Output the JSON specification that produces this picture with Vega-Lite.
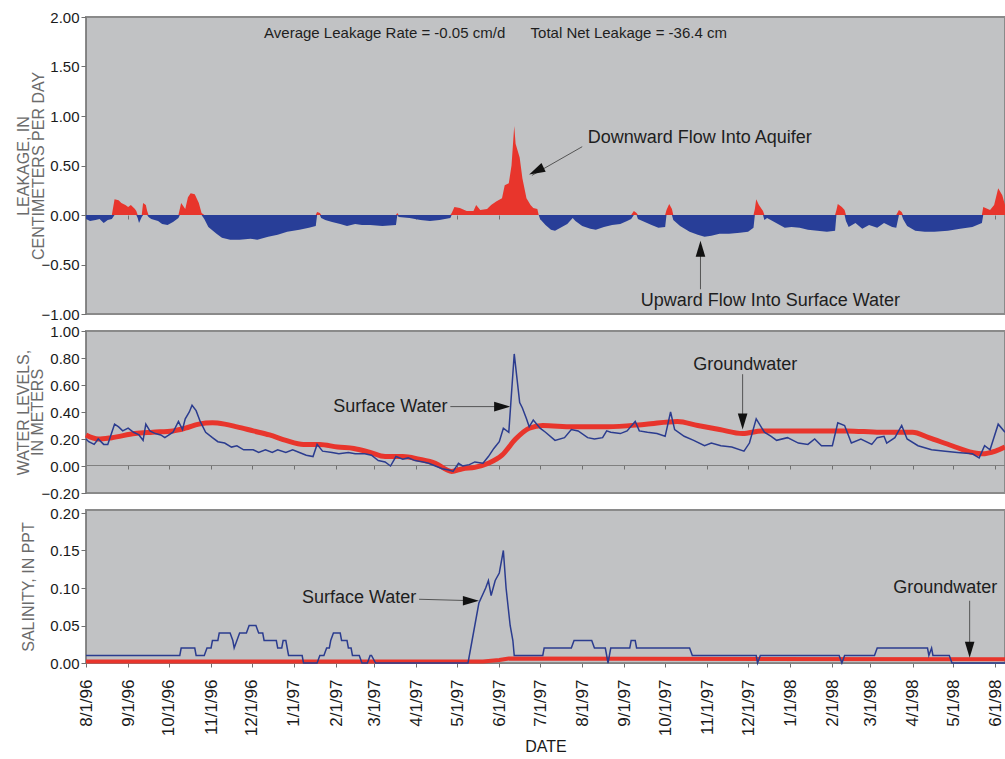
{
"$schema":"https://vega.github.io/schema/vega-lite/v6.json",
"padding":{"left":14,"top":9,"right":0,"bottom":0},
"background":"white",
"spacing":17,
"bounds":"flush",
"config":{
 "font":"Liberation Sans",
 "view":{"fill":"#c1c2c4","stroke":"#8a8a8a","strokeWidth":2},
 "axis":{"grid":false,"domainColor":"#808080","tickColor":"#707070","labelColor":"#1a1a1a","labelFont":"Liberation Sans","labelFontSize":15,"labelLimit":400,"titleFont":"Liberation Sans","titleFontWeight":"normal","titleColor":"#6b6b6b","titleFontSize":16},
 "text":{"font":"Liberation Sans","color":"#1e1e1e"}
},
"datasets":{
"leak":[
{"d":"1996-08-01","pos":0,"neg":-0.04},{"d":"1996-08-04","pos":0,"neg":-0.06},{"d":"1996-08-08","pos":0,"neg":-0.05},{"d":"1996-08-11","pos":0,"neg":-0.04},{"d":"1996-08-14","pos":0,"neg":-0.08},{"d":"1996-08-17","pos":0,"neg":-0.05},{"d":"1996-08-20","pos":0,"neg":-0.04},
{"d":"1996-08-22","pos":0.16,"neg":0},{"d":"1996-08-25","pos":0.15,"neg":0},{"d":"1996-08-27","pos":0.12,"neg":0},{"d":"1996-08-30","pos":0.10,"neg":0},{"d":"1996-09-01","pos":0.08,"neg":0},{"d":"1996-09-03","pos":0.10,"neg":0},{"d":"1996-09-06","pos":0.06,"neg":0},{"d":"1996-09-07","pos":0.04,"neg":0},
{"d":"1996-09-08","pos":0,"neg":-0.03},{"d":"1996-09-09","pos":0,"neg":-0.08},{"d":"1996-09-11","pos":0,"neg":-0.02},
{"d":"1996-09-12","pos":0.12,"neg":0},{"d":"1996-09-14","pos":0.10,"neg":0},{"d":"1996-09-15","pos":0.04,"neg":0},
{"d":"1996-09-16","pos":0,"neg":-0.02},{"d":"1996-09-18","pos":0,"neg":-0.04},{"d":"1996-09-23","pos":0,"neg":-0.06},{"d":"1996-09-26","pos":0,"neg":-0.09},{"d":"1996-09-30","pos":0,"neg":-0.10},{"d":"1996-10-04","pos":0,"neg":-0.07},{"d":"1996-10-08","pos":0,"neg":-0.03},
{"d":"1996-10-09","pos":0.06,"neg":0},{"d":"1996-10-10","pos":0.12,"neg":0},{"d":"1996-10-13","pos":0.06,"neg":0},{"d":"1996-10-15","pos":0.18,"neg":0},{"d":"1996-10-17","pos":0.22,"neg":0},{"d":"1996-10-20","pos":0.21,"neg":0},{"d":"1996-10-23","pos":0.12,"neg":0},{"d":"1996-10-25","pos":0.02,"neg":0},
{"d":"1996-10-27","pos":0,"neg":-0.04},{"d":"1996-10-30","pos":0,"neg":-0.12},{"d":"1996-11-05","pos":0,"neg":-0.19},{"d":"1996-11-09","pos":0,"neg":-0.23},{"d":"1996-11-15","pos":0,"neg":-0.25},{"d":"1996-11-22","pos":0,"neg":-0.25},{"d":"1996-11-30","pos":0,"neg":-0.24},{"d":"1996-12-05","pos":0,"neg":-0.25},{"d":"1996-12-13","pos":0,"neg":-0.22},{"d":"1996-12-20","pos":0,"neg":-0.20},{"d":"1996-12-27","pos":0,"neg":-0.17},{"d":"1997-01-05","pos":0,"neg":-0.15},{"d":"1997-01-12","pos":0,"neg":-0.13},{"d":"1997-01-17","pos":0,"neg":-0.11},
{"d":"1997-01-18","pos":0.03,"neg":0},{"d":"1997-01-20","pos":0.02,"neg":0},
{"d":"1997-01-21","pos":0,"neg":-0.03},{"d":"1997-01-24","pos":0,"neg":-0.05},{"d":"1997-01-29","pos":0,"neg":-0.07},{"d":"1997-02-04","pos":0,"neg":-0.09},{"d":"1997-02-09","pos":0,"neg":-0.11},{"d":"1997-02-15","pos":0,"neg":-0.09},{"d":"1997-02-20","pos":0,"neg":-0.10},{"d":"1997-02-26","pos":0,"neg":-0.10},{"d":"1997-03-07","pos":0,"neg":-0.11},{"d":"1997-03-17","pos":0,"neg":-0.10},
{"d":"1997-03-18","pos":0.02,"neg":0},
{"d":"1997-03-19","pos":0,"neg":-0.02},{"d":"1997-03-27","pos":0,"neg":-0.03},{"d":"1997-04-04","pos":0,"neg":-0.05},{"d":"1997-04-11","pos":0,"neg":-0.06},{"d":"1997-04-18","pos":0,"neg":-0.05},{"d":"1997-04-26","pos":0,"neg":-0.03},
{"d":"1997-04-27","pos":0.02,"neg":0},{"d":"1997-04-29","pos":0.08,"neg":0},{"d":"1997-05-03","pos":0.07,"neg":0},{"d":"1997-05-08","pos":0.04,"neg":0},{"d":"1997-05-13","pos":0.04,"neg":0},{"d":"1997-05-15","pos":0.10,"neg":0},{"d":"1997-05-18","pos":0.05,"neg":0},{"d":"1997-05-23","pos":0.06,"neg":0},{"d":"1997-05-26","pos":0.10,"neg":0},{"d":"1997-05-30","pos":0.14,"neg":0},{"d":"1997-06-03","pos":0.17,"neg":0},{"d":"1997-06-05","pos":0.30,"neg":0},{"d":"1997-06-08","pos":0.32,"neg":0},{"d":"1997-06-10","pos":0.50,"neg":0},{"d":"1997-06-12","pos":0.90,"neg":0},{"d":"1997-06-13","pos":0.72,"neg":0},{"d":"1997-06-16","pos":0.58,"neg":0},{"d":"1997-06-18","pos":0.37,"neg":0},{"d":"1997-06-21","pos":0.17,"neg":0},{"d":"1997-06-24","pos":0.10,"neg":0},{"d":"1997-06-26","pos":0.07,"neg":0},{"d":"1997-06-29","pos":0.06,"neg":0},{"d":"1997-06-30","pos":0,"neg":0},
{"d":"1997-07-01","pos":0,"neg":-0.04},{"d":"1997-07-05","pos":0,"neg":-0.10},{"d":"1997-07-09","pos":0,"neg":-0.15},{"d":"1997-07-12","pos":0,"neg":-0.16},{"d":"1997-07-17","pos":0,"neg":-0.12},{"d":"1997-07-21","pos":0,"neg":-0.09},{"d":"1997-07-25","pos":0,"neg":-0.03},{"d":"1997-07-27","pos":0,"neg":-0.06},{"d":"1997-08-01","pos":0,"neg":-0.11},{"d":"1997-08-07","pos":0,"neg":-0.14},{"d":"1997-08-11","pos":0,"neg":-0.15},{"d":"1997-08-17","pos":0,"neg":-0.12},{"d":"1997-08-23","pos":0,"neg":-0.10},{"d":"1997-08-29","pos":0,"neg":-0.09},{"d":"1997-09-03","pos":0,"neg":-0.06},{"d":"1997-09-06","pos":0,"neg":-0.04},
{"d":"1997-09-08","pos":0.04,"neg":0},{"d":"1997-09-10","pos":0.02,"neg":0},
{"d":"1997-09-11","pos":0,"neg":-0.04},{"d":"1997-09-16","pos":0,"neg":-0.07},{"d":"1997-09-21","pos":0,"neg":-0.10},{"d":"1997-09-26","pos":0,"neg":-0.13},{"d":"1997-10-01","pos":0,"neg":-0.12},
{"d":"1997-10-02","pos":0.05,"neg":0},{"d":"1997-10-04","pos":0.11,"neg":0},{"d":"1997-10-06","pos":0.06,"neg":0},
{"d":"1997-10-07","pos":0,"neg":-0.05},{"d":"1997-10-12","pos":0,"neg":-0.11},{"d":"1997-10-19","pos":0,"neg":-0.17},{"d":"1997-10-25","pos":0,"neg":-0.20},{"d":"1997-10-30","pos":0,"neg":-0.22},{"d":"1997-11-04","pos":0,"neg":-0.21},{"d":"1997-11-10","pos":0,"neg":-0.19},{"d":"1997-11-17","pos":0,"neg":-0.19},{"d":"1997-11-25","pos":0,"neg":-0.18},{"d":"1997-12-01","pos":0,"neg":-0.17},{"d":"1997-12-05","pos":0,"neg":-0.13},
{"d":"1997-12-06","pos":0.06,"neg":0},{"d":"1997-12-07","pos":0.16,"neg":0},{"d":"1997-12-09","pos":0.10,"neg":0},{"d":"1997-12-12","pos":0.04,"neg":0},
{"d":"1997-12-13","pos":0,"neg":-0.05},{"d":"1997-12-15","pos":0,"neg":-0.03},{"d":"1997-12-19","pos":0,"neg":-0.06},{"d":"1997-12-23","pos":0,"neg":-0.09},{"d":"1997-12-28","pos":0,"neg":-0.13},{"d":"1998-01-02","pos":0,"neg":-0.12},{"d":"1998-01-08","pos":0,"neg":-0.13},{"d":"1998-01-14","pos":0,"neg":-0.15},{"d":"1998-01-21","pos":0,"neg":-0.16},{"d":"1998-01-28","pos":0,"neg":-0.17},{"d":"1998-02-03","pos":0,"neg":-0.16},
{"d":"1998-02-04","pos":0.05,"neg":0},{"d":"1998-02-05","pos":0.11,"neg":0},{"d":"1998-02-08","pos":0.08,"neg":0},{"d":"1998-02-10","pos":0.05,"neg":0},
{"d":"1998-02-11","pos":0,"neg":-0.06},{"d":"1998-02-13","pos":0,"neg":-0.12},{"d":"1998-02-18","pos":0,"neg":-0.08},{"d":"1998-02-23","pos":0,"neg":-0.14},{"d":"1998-02-28","pos":0,"neg":-0.10},{"d":"1998-03-06","pos":0,"neg":-0.13},{"d":"1998-03-11","pos":0,"neg":-0.08},{"d":"1998-03-17","pos":0,"neg":-0.12},{"d":"1998-03-20","pos":0,"neg":-0.13},
{"d":"1998-03-22","pos":0.05,"neg":0},{"d":"1998-03-24","pos":0.03,"neg":0},
{"d":"1998-03-25","pos":0,"neg":-0.04},{"d":"1998-03-28","pos":0,"neg":-0.11},{"d":"1998-04-03","pos":0,"neg":-0.16},{"d":"1998-04-10","pos":0,"neg":-0.17},{"d":"1998-04-17","pos":0,"neg":-0.17},{"d":"1998-04-27","pos":0,"neg":-0.16},{"d":"1998-05-06","pos":0,"neg":-0.14},{"d":"1998-05-15","pos":0,"neg":-0.12},{"d":"1998-05-22","pos":0,"neg":-0.08},
{"d":"1998-05-23","pos":0.08,"neg":0},{"d":"1998-05-28","pos":0.05,"neg":0},{"d":"1998-05-31","pos":0.10,"neg":0},{"d":"1998-06-03","pos":0.27,"neg":0},{"d":"1998-06-06","pos":0.20,"neg":0},{"d":"1998-06-08","pos":0.10,"neg":0}
],
"swl":[
{"d":"1996-08-01","v":0.20},{"d":"1996-08-03","v":0.18},{"d":"1996-08-07","v":0.16},{"d":"1996-08-10","v":0.20},{"d":"1996-08-14","v":0.16},{"d":"1996-08-17","v":0.16},{"d":"1996-08-22","v":0.31},{"d":"1996-08-25","v":0.29},{"d":"1996-08-28","v":0.26},{"d":"1996-09-01","v":0.28},{"d":"1996-09-05","v":0.25},{"d":"1996-09-09","v":0.23},{"d":"1996-09-12","v":0.19},{"d":"1996-09-14","v":0.31},{"d":"1996-09-17","v":0.26},{"d":"1996-09-21","v":0.24},{"d":"1996-09-25","v":0.23},{"d":"1996-09-28","v":0.21},{"d":"1996-10-04","v":0.25},{"d":"1996-10-08","v":0.33},{"d":"1996-10-11","v":0.27},{"d":"1996-10-13","v":0.35},{"d":"1996-10-16","v":0.40},{"d":"1996-10-18","v":0.45},{"d":"1996-10-21","v":0.41},{"d":"1996-10-24","v":0.33},{"d":"1996-10-28","v":0.25},{"d":"1996-11-02","v":0.21},{"d":"1996-11-06","v":0.18},{"d":"1996-11-11","v":0.17},{"d":"1996-11-16","v":0.14},{"d":"1996-11-20","v":0.15},{"d":"1996-11-25","v":0.12},{"d":"1996-12-02","v":0.12},{"d":"1996-12-06","v":0.10},{"d":"1996-12-11","v":0.12},{"d":"1996-12-16","v":0.10},{"d":"1996-12-20","v":0.12},{"d":"1996-12-26","v":0.10},{"d":"1996-12-31","v":0.12},{"d":"1997-01-05","v":0.10},{"d":"1997-01-10","v":0.08},{"d":"1997-01-15","v":0.07},{"d":"1997-01-18","v":0.16},{"d":"1997-01-22","v":0.11},{"d":"1997-01-29","v":0.10},{"d":"1997-02-03","v":0.09},{"d":"1997-02-10","v":0.10},{"d":"1997-02-15","v":0.09},{"d":"1997-02-22","v":0.09},{"d":"1997-02-27","v":0.08},{"d":"1997-03-04","v":0.04},{"d":"1997-03-09","v":0.03},{"d":"1997-03-13","v":0.00},{"d":"1997-03-17","v":0.07},{"d":"1997-03-22","v":0.05},{"d":"1997-03-26","v":0.06},{"d":"1997-03-31","v":0.04},{"d":"1997-04-06","v":0.03},{"d":"1997-04-10","v":0.02},{"d":"1997-04-15","v":0.00},{"d":"1997-04-20","v":-0.02},{"d":"1997-04-25","v":-0.03},{"d":"1997-04-28","v":-0.04},{"d":"1997-05-02","v":0.02},{"d":"1997-05-05","v":0.00},{"d":"1997-05-10","v":0.01},{"d":"1997-05-14","v":0.03},{"d":"1997-05-20","v":0.02},{"d":"1997-05-24","v":0.07},{"d":"1997-05-28","v":0.13},{"d":"1997-06-01","v":0.18},{"d":"1997-06-04","v":0.28},{"d":"1997-06-08","v":0.25},{"d":"1997-06-12","v":0.83},{"d":"1997-06-16","v":0.47},{"d":"1997-06-18","v":0.43},{"d":"1997-06-21","v":0.35},{"d":"1997-06-23","v":0.29},{"d":"1997-06-26","v":0.34},{"d":"1997-07-01","v":0.28},
{"d":"1997-07-05","v":0.25},{"d":"1997-07-12","v":0.19},{"d":"1997-07-19","v":0.21},{"d":"1997-07-24","v":0.27},{"d":"1997-07-29","v":0.26},{"d":"1997-08-05","v":0.21},{"d":"1997-08-10","v":0.20},{"d":"1997-08-16","v":0.21},{"d":"1997-08-19","v":0.26},{"d":"1997-08-22","v":0.25},{"d":"1997-08-29","v":0.24},{"d":"1997-09-03","v":0.26},{"d":"1997-09-09","v":0.33},{"d":"1997-09-12","v":0.26},{"d":"1997-09-18","v":0.25},{"d":"1997-09-25","v":0.24},{"d":"1997-10-01","v":0.22},{"d":"1997-10-05","v":0.40},{"d":"1997-10-08","v":0.27},{"d":"1997-10-15","v":0.22},{"d":"1997-10-22","v":0.19},{"d":"1997-10-30","v":0.15},{"d":"1997-11-04","v":0.17},{"d":"1997-11-11","v":0.15},{"d":"1997-11-19","v":0.14},{"d":"1997-11-28","v":0.11},{"d":"1997-12-02","v":0.17},{"d":"1997-12-07","v":0.35},{"d":"1997-12-13","v":0.25},{"d":"1997-12-18","v":0.22},{"d":"1997-12-22","v":0.19},{"d":"1997-12-30","v":0.21},{"d":"1998-01-07","v":0.17},{"d":"1998-01-14","v":0.16},{"d":"1998-01-19","v":0.20},{"d":"1998-01-24","v":0.15},{"d":"1998-02-01","v":0.15},{"d":"1998-02-05","v":0.32},{"d":"1998-02-10","v":0.30},{"d":"1998-02-15","v":0.17},{"d":"1998-02-22","v":0.20},{"d":"1998-03-02","v":0.16},{"d":"1998-03-06","v":0.21},{"d":"1998-03-11","v":0.22},{"d":"1998-03-13","v":0.17},{"d":"1998-03-19","v":0.21},{"d":"1998-03-24","v":0.30},{"d":"1998-03-28","v":0.20},{"d":"1998-04-05","v":0.15},{"d":"1998-04-15","v":0.12},{"d":"1998-04-25","v":0.11},{"d":"1998-05-04","v":0.10},{"d":"1998-05-15","v":0.09},{"d":"1998-05-20","v":0.06},{"d":"1998-05-24","v":0.15},{"d":"1998-05-28","v":0.12},{"d":"1998-06-03","v":0.31},{"d":"1998-06-08","v":0.25}
],
"gwl":[
{"d":"1996-08-01","v":0.23},{"d":"1996-08-10","v":0.20},{"d":"1996-08-20","v":0.21},{"d":"1996-09-06","v":0.24},{"d":"1996-09-19","v":0.25},{"d":"1996-10-04","v":0.26},{"d":"1996-10-13","v":0.28},{"d":"1996-10-23","v":0.31},{"d":"1996-11-02","v":0.32},{"d":"1996-11-11","v":0.31},{"d":"1996-11-20","v":0.29},{"d":"1996-12-02","v":0.26},{"d":"1996-12-14","v":0.23},{"d":"1996-12-26","v":0.19},{"d":"1997-01-08","v":0.16},{"d":"1997-01-20","v":0.16},{"d":"1997-02-02","v":0.14},{"d":"1997-02-14","v":0.13},{"d":"1997-02-26","v":0.10},{"d":"1997-03-09","v":0.07},{"d":"1997-03-22","v":0.07},{"d":"1997-04-03","v":0.05},{"d":"1997-04-15","v":0.02},{"d":"1997-04-27","v":-0.04},{"d":"1997-05-05","v":-0.02},{"d":"1997-05-14","v":-0.01},{"d":"1997-05-24","v":0.02},{"d":"1997-06-03","v":0.08},{"d":"1997-06-13","v":0.20},{"d":"1997-06-23","v":0.28},{"d":"1997-07-03","v":0.30},{"d":"1997-07-25","v":0.29},{"d":"1997-08-20","v":0.29},{"d":"1997-09-17","v":0.31},{"d":"1997-10-10","v":0.33},{"d":"1997-10-25","v":0.30},{"d":"1997-11-10","v":0.27},{"d":"1997-11-27","v":0.24},{"d":"1997-12-11","v":0.26},{"d":"1998-01-18","v":0.26},{"d":"1998-02-12","v":0.26},{"d":"1998-03-08","v":0.25},{"d":"1998-04-01","v":0.25},{"d":"1998-04-13","v":0.21},{"d":"1998-04-30","v":0.15},{"d":"1998-05-15","v":0.10},{"d":"1998-05-22","v":0.09},{"d":"1998-06-01","v":0.11},{"d":"1998-06-08","v":0.14}
],
"sws":[
{"d":"1996-08-01","v":0.01},{"d":"1996-10-09","v":0.01},{"d":"1996-10-10","v":0.02},{"d":"1996-10-20","v":0.02},{"d":"1996-10-21","v":0.01},{"d":"1996-10-27","v":0.01},{"d":"1996-10-29","v":0.02},{"d":"1996-11-01","v":0.02},{"d":"1996-11-02","v":0.03},{"d":"1996-11-06","v":0.03},{"d":"1996-11-07","v":0.04},{"d":"1996-11-15","v":0.04},{"d":"1996-11-17","v":0.03},{"d":"1996-11-18","v":0.02},{"d":"1996-11-20","v":0.03},{"d":"1996-11-22","v":0.04},{"d":"1996-11-27","v":0.04},{"d":"1996-11-29","v":0.05},{"d":"1996-12-04","v":0.05},{"d":"1996-12-06","v":0.04},{"d":"1996-12-09","v":0.04},{"d":"1996-12-10","v":0.03},{"d":"1996-12-19","v":0.03},{"d":"1996-12-20","v":0.02},{"d":"1996-12-23","v":0.02},{"d":"1996-12-24","v":0.03},{"d":"1996-12-26","v":0.03},{"d":"1996-12-28","v":0.01},{"d":"1997-01-07","v":0.01},{"d":"1997-01-08","v":0.00},{"d":"1997-01-18","v":0.00},{"d":"1997-01-20","v":0.01},{"d":"1997-01-23","v":0.01},{"d":"1997-01-25","v":0.02},{"d":"1997-01-27","v":0.02},{"d":"1997-01-28","v":0.03},{"d":"1997-01-30","v":0.04},{"d":"1997-02-04","v":0.04},{"d":"1997-02-05","v":0.03},{"d":"1997-02-09","v":0.03},{"d":"1997-02-10","v":0.02},{"d":"1997-02-12","v":0.02},{"d":"1997-02-13","v":0.01},{"d":"1997-02-18","v":0.01},{"d":"1997-02-20","v":0.00},{"d":"1997-02-24","v":0.00},{"d":"1997-02-26","v":0.01},{"d":"1997-02-27","v":0.01},{"d":"1997-03-02","v":0.00},{"d":"1997-05-09","v":0.00},{"d":"1997-05-12","v":0.03},{"d":"1997-05-17","v":0.08},{"d":"1997-05-22","v":0.10},{"d":"1997-05-24","v":0.11},{"d":"1997-05-26","v":0.09},{"d":"1997-05-29","v":0.11},{"d":"1997-06-01","v":0.12},{"d":"1997-06-04","v":0.15},{"d":"1997-06-06","v":0.10},{"d":"1997-06-09","v":0.05},{"d":"1997-06-11","v":0.03},{"d":"1997-06-12","v":0.01},{"d":"1997-07-03","v":0.01},{"d":"1997-07-04","v":0.02},{"d":"1997-07-24","v":0.02},{"d":"1997-07-26","v":0.03},{"d":"1997-08-08","v":0.03},{"d":"1997-08-10","v":0.02},{"d":"1997-08-18","v":0.02},{"d":"1997-08-20","v":0.00},{"d":"1997-08-22","v":0.02},{"d":"1997-09-05","v":0.02},{"d":"1997-09-06","v":0.03},{"d":"1997-09-09","v":0.03},{"d":"1997-09-10","v":0.02},{"d":"1997-10-19","v":0.02},{"d":"1997-10-21","v":0.01},{"d":"1997-12-07","v":0.01},{"d":"1997-12-08","v":0.00},{"d":"1997-12-10","v":0.01},{"d":"1998-02-06","v":0.01},{"d":"1998-02-08","v":0.00},{"d":"1998-02-10","v":0.01},{"d":"1998-03-04","v":0.01},{"d":"1998-03-06","v":0.02},{"d":"1998-04-12","v":0.02},{"d":"1998-04-13","v":0.01},{"d":"1998-04-15","v":0.02},{"d":"1998-04-16","v":0.01},{"d":"1998-04-28","v":0.01},{"d":"1998-04-30","v":0.00},{"d":"1998-06-08","v":0.00}
],
"gws":[
{"d":"1996-08-01","v":0.002},{"d":"1997-05-20","v":0.002},{"d":"1997-06-01","v":0.004},{"d":"1997-06-08","v":0.006},{"d":"1998-06-08","v":0.005}
]
},
"vconcat":[
{
 "width":919,"height":297,
 "encoding":{
  "x":{"field":"d","type":"temporal","scale":{"type":"utc","domain":[{"year":1996,"month":8,"date":1,"utc":true},{"year":1998,"month":6,"date":8,"utc":true}]},
   "axis":{"orient":"bottom","offset":-99,"labels":false,"title":null,"tickSize":4,"tickCount":{"interval":"month","step":1},"domain":false}},
  "y":{"field":"v","type":"quantitative","scale":{"domain":[-1,2],"nice":false,"zero":false},
   "axis":{"values":[-1,-0.5,0,0.5,1,1.5,2],"format":".2f","tickSize":5,"labelPadding":2,"title":["LEAKAGE, IN","CENTIMETERS PER DAY"],"titlePadding":-5,"titleLineHeight":15}}
 },
 "layer":[
  {"data":{"name":"leak"},"mark":{"type":"area","color":"#e8352c"},
   "encoding":{"y":{"field":"pos","type":"quantitative","scale":{"domain":[-1,2],"nice":false,"zero":false},"axis":{"values":[-1,-0.5,0,0.5,1,1.5,2],"format":".2f","tickSize":5,"labelPadding":2,"title":["LEAKAGE, IN","CENTIMETERS PER DAY"],"titlePadding":-5,"titleLineHeight":15}},"y2":{"datum":0}}},
  {"data":{"name":"leak"},"mark":{"type":"area","color":"#283e98"},
   "encoding":{"y":{"field":"neg","type":"quantitative","scale":{"domain":[-1,2],"nice":false,"zero":false},"axis":{"values":[-1,-0.5,0,0.5,1,1.5,2],"format":".2f","tickSize":5,"labelPadding":2,"title":["LEAKAGE, IN","CENTIMETERS PER DAY"],"titlePadding":-5,"titleLineHeight":15}},"y2":{"datum":0}}},
  {"data":{"values":[{"d":"1996-12-10","v":1.84,"t":"Average Leakage Rate = -0.05 cm/d"},{"d":"1997-06-24","v":1.84,"t":"Total Net Leakage = -36.4 cm"}]},
   "mark":{"type":"text","align":"left","baseline":"middle","fontSize":15},"encoding":{"text":{"field":"t"}}},
  {"data":{"values":[{"d":"1997-08-05","v":0.78,"t":"Downward Flow Into Aquifer"},{"d":"1997-09-13","v":-0.87,"t":"Upward Flow Into Surface Water"}]},
   "mark":{"type":"text","align":"left","baseline":"middle","fontSize":18},"encoding":{"text":{"field":"t"}}},
  {"data":{"values":[{"d":"1997-08-01","v":0.69,"d2":"1997-06-25","v2":0.40},{"d":"1997-10-27","v":-0.75,"d2":"1997-10-27","v2":-0.32}]},
   "mark":{"type":"rule","color":"#555555","strokeWidth":1},"encoding":{"x2":{"field":"d2"},"y2":{"field":"v2"}}},
  {"data":{"values":[{"d":"1997-06-23","v":0.41}]},
   "mark":{"type":"point","shape":"M0,0L0.6,2L-0.6,2Z","filled":true,"size":256,"angle":244,"color":"#111111","opacity":1}},
  {"data":{"values":[{"d":"1997-10-27","v":-0.26}]},
   "mark":{"type":"point","shape":"M0,0L0.6,2L-0.6,2Z","filled":true,"size":256,"angle":0,"color":"#111111","opacity":1}}
 ]
},
{
 "width":919,"height":162,
 "encoding":{
  "x":{"field":"d","type":"temporal","scale":{"type":"utc","domain":[{"year":1996,"month":8,"date":1,"utc":true},{"year":1998,"month":6,"date":8,"utc":true}]},
   "axis":{"orient":"bottom","offset":-28,"labels":false,"title":null,"tickSize":4,"tickCount":{"interval":"month","step":1},"domain":true}},
  "y":{"field":"v","type":"quantitative","scale":{"domain":[-0.2,1],"nice":false,"zero":false},
   "axis":{"values":[-0.2,0,0.2,0.4,0.6,0.8,1],"format":".2f","tickSize":5,"labelPadding":2,"title":["WATER LEVELS,","IN METERS"],"titlePadding":-4,"titleLineHeight":14}}
 },
 "layer":[
  {"data":{"name":"gwl"},"mark":{"type":"line","color":"#e8352c","strokeWidth":5,"interpolate":"monotone"}},
  {"data":{"name":"swl"},"mark":{"type":"line","color":"#2b3c8f","strokeWidth":1.5}},
  {"data":{"values":[{"d":"1997-04-24","v":0.44,"t":"Surface Water"}]},
   "mark":{"type":"text","align":"right","baseline":"middle","fontSize":18},"encoding":{"text":{"field":"t"}}},
  {"data":{"values":[{"d":"1997-11-29","v":0.75,"t":"Groundwater"}]},
   "mark":{"type":"text","align":"center","baseline":"middle","fontSize":18},"encoding":{"text":{"field":"t"}}},
  {"data":{"values":[{"d":"1997-04-26","v":0.44,"d2":"1997-06-05","v2":0.44},{"d":"1997-11-27","v":0.68,"d2":"1997-11-27","v2":0.32}]},
   "mark":{"type":"rule","color":"#555555","strokeWidth":1},"encoding":{"x2":{"field":"d2"},"y2":{"field":"v2"}}},
  {"data":{"values":[{"d":"1997-06-09","v":0.44}]},
   "mark":{"type":"point","shape":"M0,0L0.6,2L-0.6,2Z","filled":true,"size":256,"angle":90,"color":"#111111","opacity":1}},
  {"data":{"values":[{"d":"1997-11-27","v":0.27}]},
   "mark":{"type":"point","shape":"M0,0L0.6,2L-0.6,2Z","filled":true,"size":256,"angle":180,"color":"#111111","opacity":1}}
 ]
},
{
 "width":919,"height":153,
 "encoding":{
  "x":{"field":"d","type":"temporal","scale":{"type":"utc","domain":[{"year":1996,"month":8,"date":1,"utc":true},{"year":1998,"month":6,"date":8,"utc":true}]},
   "axis":{"orient":"bottom","labelAngle":270,"format":"%-m/%-d/%y","tickCount":{"interval":"month","step":1},"labelFontSize":17,"labelLimit":400,"labelPadding":12,"labelFlush":false,"labelOverlap":false,"tickSize":4,"title":"DATE","titleFontSize":16,"titleColor":"#1a1a1a","titlePadding":3}},
  "y":{"field":"v","type":"quantitative","scale":{"domain":[0,0.204],"nice":false,"zero":false},
   "axis":{"values":[0,0.05,0.1,0.15,0.2],"format":".2f","tickSize":5,"labelPadding":2,"title":"SALINITY, IN PPT","titlePadding":13}}
 },
 "layer":[
  {"data":{"name":"gws"},"mark":{"type":"line","color":"#e8352c","strokeWidth":4}},
  {"data":{"name":"sws"},"mark":{"type":"line","color":"#2b3c8f","strokeWidth":1.5}},
  {"data":{"values":[{"d":"1997-04-01","v":0.087,"t":"Surface Water"}]},
   "mark":{"type":"text","align":"right","baseline":"middle","fontSize":18},"encoding":{"text":{"field":"t"}}},
  {"data":{"values":[{"d":"1998-04-25","v":0.10,"t":"Groundwater"}]},
   "mark":{"type":"text","align":"center","baseline":"middle","fontSize":18},"encoding":{"text":{"field":"t"}}},
  {"data":{"values":[{"d":"1997-04-03","v":0.085,"d2":"1997-05-14","v2":0.083},{"d":"1998-05-13","v":0.083,"d2":"1998-05-13","v2":0.015}]},
   "mark":{"type":"rule","color":"#555555","strokeWidth":1},"encoding":{"x2":{"field":"d2"},"y2":{"field":"v2"}}},
  {"data":{"values":[{"d":"1997-05-17","v":0.083}]},
   "mark":{"type":"point","shape":"M0,0L0.6,2L-0.6,2Z","filled":true,"size":256,"angle":90,"color":"#111111","opacity":1}},
  {"data":{"values":[{"d":"1998-05-13","v":0.007}]},
   "mark":{"type":"point","shape":"M0,0L0.6,2L-0.6,2Z","filled":true,"size":256,"angle":180,"color":"#111111","opacity":1}}
 ]
}
]
}
